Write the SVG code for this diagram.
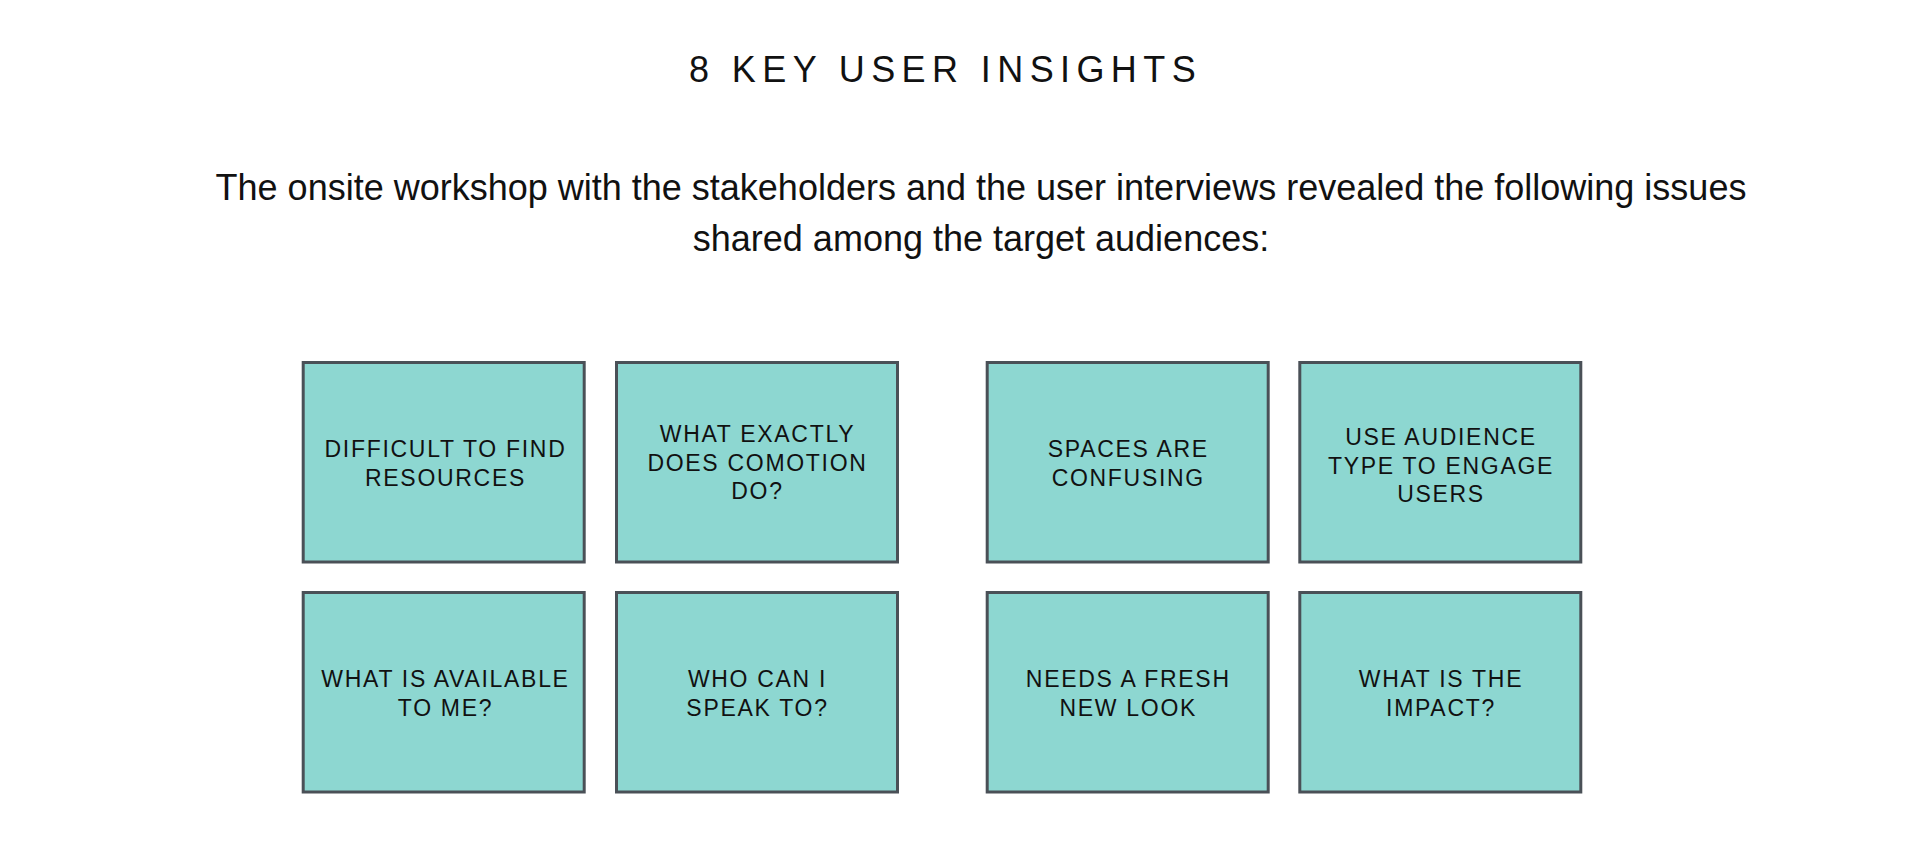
<svg xmlns="http://www.w3.org/2000/svg" width="1920" height="848" viewBox="0 0 1920 848">
<style>
.bg{fill:#ffffff}
.title{font-family:"Liberation Sans",Arial,sans-serif;font-size:36px;letter-spacing:6.4px;fill:#111111}
.sub{font-family:"Liberation Sans",Arial,sans-serif;font-size:36px;fill:#111111;text-anchor:middle}
.box{fill:#8dd7d1;stroke:#4a5057;stroke-width:3}
.lbl{font-family:"Liberation Sans",Arial,sans-serif;font-size:23px;letter-spacing:1.7px;fill:#111111;text-anchor:middle}
</style>
<rect class="bg" x="0" y="0" width="1920" height="848"/>
<text class="title" x="689" y="82.3">8 KEY USER INSIGHTS</text>
<text class="sub" x="981" y="200">The onsite workshop with the stakeholders and the user interviews revealed the following issues</text>
<text class="sub" x="981" y="251">shared among the target audiences:</text>
<g id="connectors"></g>
<g id="n1"><rect class="box" x="303.2" y="362.5" width="281" height="199.5"/><text class="lbl" x="445.5" y="457.3">DIFFICULT TO FIND</text><text class="lbl" x="445.5" y="486">RESOURCES</text></g>
<g id="n2"><rect class="box" x="616.5" y="362.5" width="281" height="199.5"/><text class="lbl" x="757.5" y="441.7">WHAT EXACTLY</text><text class="lbl" x="757.5" y="470.5">DOES COMOTION</text><text class="lbl" x="757.5" y="499.3">DO?</text></g>
<g id="n3"><rect class="box" x="987.2" y="362.5" width="281" height="199.5"/><text class="lbl" x="1128.3" y="456.7">SPACES ARE</text><text class="lbl" x="1128.3" y="485.7">CONFUSING</text></g>
<g id="n4"><rect class="box" x="1299.8" y="362.5" width="281" height="199.5"/><text class="lbl" x="1441" y="445">USE AUDIENCE</text><text class="lbl" x="1441" y="473.5">TYPE TO ENGAGE</text><text class="lbl" x="1441" y="502.3">USERS</text></g>
<g id="n5"><rect class="box" x="303.2" y="592.5" width="281" height="199.5"/><text class="lbl" x="445.5" y="686.7">WHAT IS AVAILABLE</text><text class="lbl" x="445.5" y="715.7">TO ME?</text></g>
<g id="n6"><rect class="box" x="616.5" y="592.5" width="281" height="199.5"/><text class="lbl" x="757.5" y="686.7">WHO CAN I</text><text class="lbl" x="757.5" y="715.7">SPEAK TO?</text></g>
<g id="n7"><rect class="box" x="987.2" y="592.5" width="281" height="199.5"/><text class="lbl" x="1128.3" y="686.7">NEEDS A FRESH</text><text class="lbl" x="1128.3" y="715.7">NEW LOOK</text></g>
<g id="n8"><rect class="box" x="1299.8" y="592.5" width="281" height="199.5"/><text class="lbl" x="1441" y="686.7">WHAT IS THE</text><text class="lbl" x="1441" y="715.7">IMPACT?</text></g>
</svg>
